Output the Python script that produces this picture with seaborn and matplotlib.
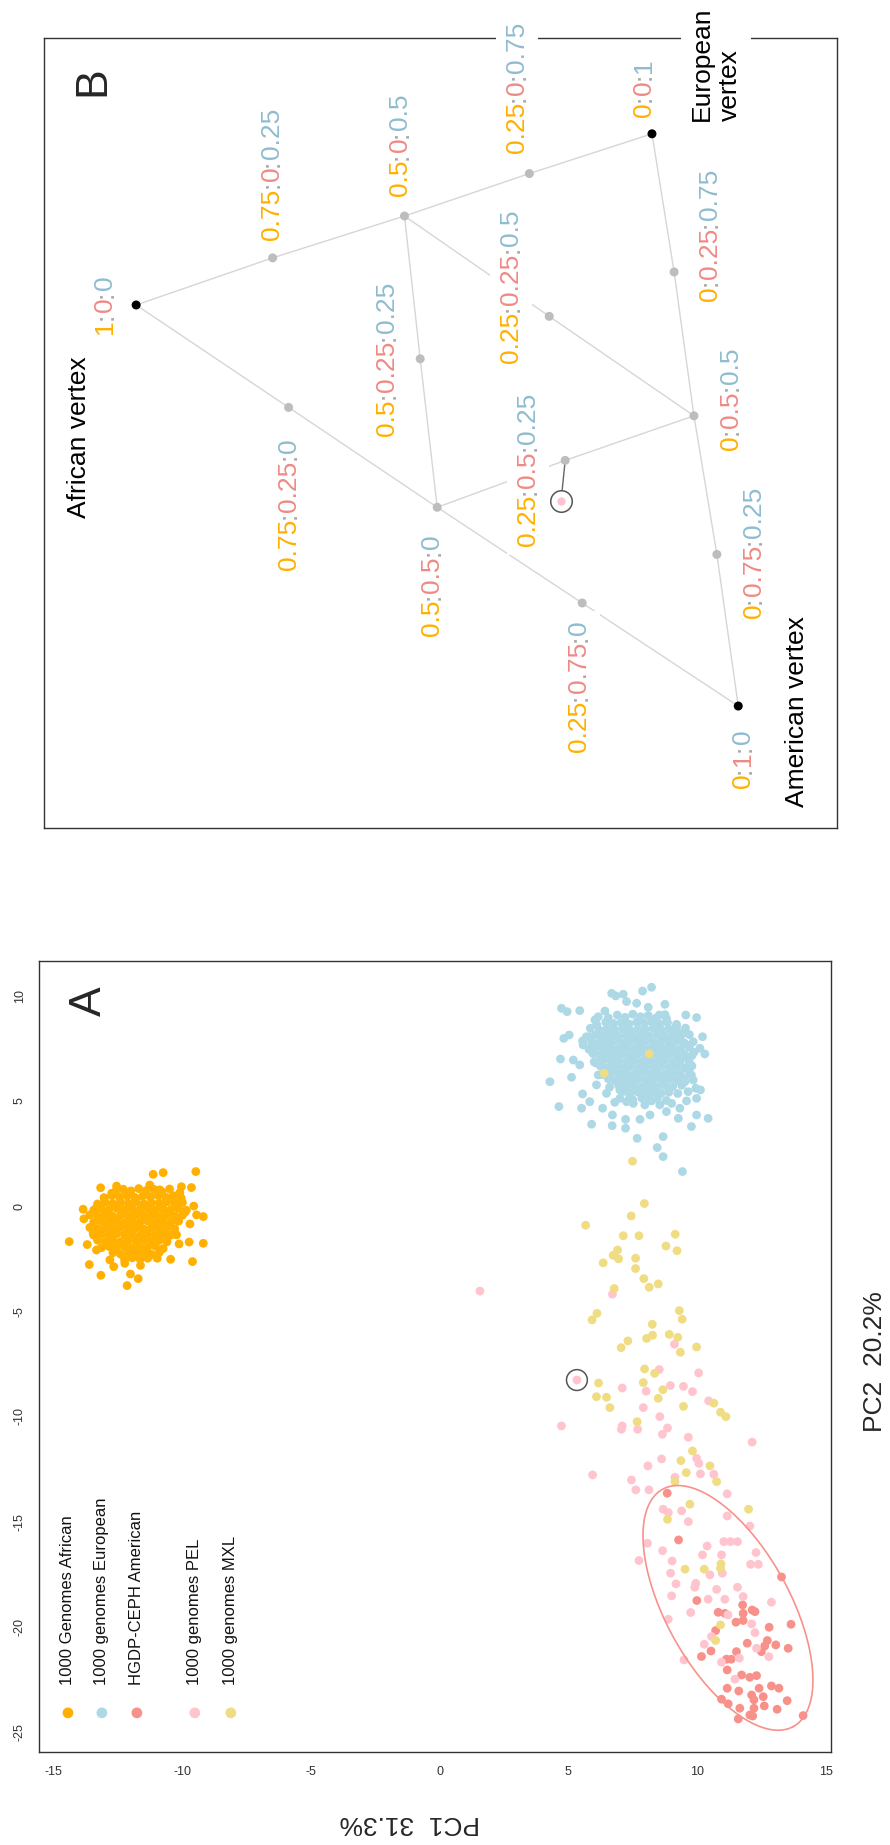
import numpy as np
import pandas as pd
import matplotlib
matplotlib.use("Agg")
import matplotlib.pyplot as plt
from matplotlib.patches import Rectangle
from matplotlib.transforms import IdentityTransform
import seaborn as sns

sns.set_style("white")
plt.rcParams["font.family"] = ["Liberation Sans", "DejaVu Sans"]
plt.rcParams["axes.unicode_minus"] = False

# ---------------------------------------------------------------- panel A data
populations = ["1000 Genomes African", "1000 genomes European",
               "HGDP-CEPH American", "1000 genomes PEL", "1000 genomes MXL"]
pop_colors = ["#FFB000", "#ADD8E6", "#F8918A", "#FFC4CD", "#F0DC82"]

african = [
    # dense core
    (-12.6, 0.70), (-12.3, 0.80), (-12.0, 0.72), (-11.7, 0.83), (-11.4, 0.74), (-11.1, 0.79),
    (-10.8, 0.68), (-10.5, 0.81),
    (-13.05, 0.40), (-12.75, 0.50), (-12.45, 0.43), (-12.15, 0.48), (-11.85, 0.41),
    (-11.55, 0.47), (-11.25, 0.44), (-10.95, 0.50), (-10.65, 0.42), (-10.35, 0.49), (-10.05, 0.38),
    (-13.3, 0.10), (-13.0, 0.18), (-12.7, 0.12), (-12.4, 0.17), (-12.1, 0.13), (-11.8, 0.19),
    (-11.5, 0.11), (-11.2, 0.16), (-10.9, 0.14), (-10.6, 0.20), (-10.3, 0.12), (-10.0, 0.17),
    (-13.45, -0.20), (-13.15, -0.12), (-12.85, -0.17), (-12.55, -0.11), (-12.25, -0.18),
    (-11.95, -0.13), (-11.65, -0.16), (-11.35, -0.12), (-11.05, -0.19), (-10.75, -0.14),
    (-10.45, -0.17), (-10.15, -0.11), (-9.85, -0.20),
    (-13.6, -0.42), (-13.3, -0.48), (-13.0, -0.43), (-12.7, -0.49), (-12.4, -0.44),
    (-12.1, -0.47), (-11.8, -0.41), (-11.5, -0.46), (-11.2, -0.44), (-10.9, -0.49),
    (-10.6, -0.42), (-10.3, -0.47), (-10.0, -0.43),
    (-13.45, -0.78), (-13.15, -0.72), (-12.85, -0.77), (-12.55, -0.73), (-12.25, -0.79),
    (-11.95, -0.74), (-11.65, -0.76), (-11.35, -0.71), (-11.05, -0.78), (-10.75, -0.73),
    (-10.45, -0.77), (-10.15, -0.72),
    (-13.6, -1.02), (-13.3, -1.08), (-13.0, -1.03), (-12.7, -1.07), (-12.4, -1.01),
    (-12.1, -1.06), (-11.8, -1.04), (-11.5, -1.09), (-11.2, -1.02), (-10.9, -1.07),
    (-10.6, -1.03), (-10.3, -1.08),
    (-13.45, -1.38), (-13.15, -1.32), (-12.85, -1.37), (-12.55, -1.31), (-12.25, -1.36),
    (-11.95, -1.33), (-11.65, -1.39), (-11.35, -1.34), (-11.05, -1.36), (-10.75, -1.31),
    (-10.45, -1.38),
    (-13.3, -1.62), (-13.0, -1.68), (-12.7, -1.63), (-12.4, -1.69), (-12.1, -1.64),
    (-11.8, -1.66), (-11.5, -1.61), (-11.2, -1.67), (-10.9, -1.63), (-10.6, -1.70),
    (-13.15, -1.98), (-12.85, -1.92), (-12.55, -1.97), (-12.25, -1.93), (-11.95, -1.99),
    (-11.65, -1.94), (-11.35, -1.96), (-11.05, -1.91), (-10.75, -2.02),
    (-12.7, -2.22), (-12.4, -2.29), (-12.1, -2.21), (-11.8, -2.27), (-11.5, -2.24),
    (-11.2, -2.30), (-10.9, -2.20),
    (-12.25, -2.55), (-11.95, -2.46), (-11.65, -2.52), (-11.35, -2.48),
    # scattered edge
    (-14.40, -1.69), (-11.14, 1.51), (-10.75, 1.59), (-9.48, 1.64), (-13.18, 0.87),
    (-12.56, 0.95), (-13.86, -0.15), (-13.83, -0.61), (-13.40, -0.15), (-13.70, -1.83),
    (-13.62, -2.78), (-13.17, -3.29), (-12.67, -2.88), (-12.02, -3.23), (-12.15, -3.78),
    (-11.72, -3.45), (-11.63, -2.82), (-12.24, -2.72), (-10.98, -2.48), (-10.46, -2.53),
    (-10.13, -1.80), (-9.74, -1.71), (-9.19, -1.77), (-9.61, -2.64), (-9.56, 0.00),
    (-9.45, -0.42), (-9.19, -0.50), (-9.65, 0.88), (-10.04, 0.92), (-10.10, 0.64),
    (-10.30, 0.32), (-9.91, -0.30), (-9.71, -0.85), (-10.23, -1.37), (-10.68, -1.53),
    (-11.27, -2.32), (-12.75, 0.61), (-12.17, 0.64), (-11.27, 1.00), (-10.88, 0.77),
    (-13.47, -1.29), (-13.34, -2.09), (-12.82, -2.56),
]

european = [
    # dense core
    (6.55, 8.95), (6.9, 9.08), (7.2, 8.97), (7.5, 9.12), (7.8, 9.00), (8.1, 9.06), (8.4, 8.93),
    (8.75, 9.10),
    (6.1, 8.62), (6.45, 8.74), (6.75, 8.68), (7.05, 8.72), (7.35, 8.66), (7.65, 8.74),
    (7.95, 8.69), (8.25, 8.73), (8.55, 8.66), (8.85, 8.72), (9.2, 8.64),
    (5.85, 8.45), (6.2, 8.37), (6.5, 8.42), (6.8, 8.38), (7.1, 8.43), (7.4, 8.36), (7.7, 8.41),
    (8.0, 8.39), (8.3, 8.44), (8.6, 8.37), (8.9, 8.42), (9.2, 8.38), (9.55, 8.46),
    (5.7, 8.05), (6.05, 8.13), (6.35, 8.08), (6.65, 8.12), (6.95, 8.07), (7.25, 8.11),
    (7.55, 8.06), (7.85, 8.13), (8.15, 8.08), (8.45, 8.12), (8.75, 8.07), (9.05, 8.11),
    (9.35, 8.06), (9.7, 8.15),
    (5.55, 7.85), (5.9, 7.77), (6.2, 7.82), (6.5, 7.78), (6.8, 7.83), (7.1, 7.76), (7.4, 7.81),
    (7.7, 7.79), (8.0, 7.84), (8.3, 7.77), (8.6, 7.82), (8.9, 7.78), (9.2, 7.83), (9.5, 7.76),
    (9.85, 7.81),
    (5.8, 7.45), (6.05, 7.53), (6.35, 7.48), (6.65, 7.52), (6.95, 7.47), (7.25, 7.51),
    (7.55, 7.46), (7.85, 7.53), (8.15, 7.48), (8.45, 7.52), (8.75, 7.47), (9.05, 7.51),
    (9.35, 7.46), (9.7, 7.55),
    (5.95, 7.25), (6.2, 7.17), (6.5, 7.22), (6.8, 7.18), (7.1, 7.23), (7.4, 7.16), (7.7, 7.21),
    (8.0, 7.19), (8.3, 7.24), (8.6, 7.17), (8.9, 7.22), (9.2, 7.18), (9.5, 7.23), (9.8, 7.15),
    (6.0, 6.85), (6.35, 6.93), (6.65, 6.88), (6.95, 6.92), (7.25, 6.87), (7.55, 6.91),
    (7.85, 6.86), (8.15, 6.93), (8.45, 6.88), (8.75, 6.92), (9.05, 6.87), (9.35, 6.91),
    (9.7, 6.84),
    (6.25, 6.65), (6.5, 6.57), (6.8, 6.62), (7.1, 6.58), (7.4, 6.63), (7.7, 6.56), (8.0, 6.61),
    (8.3, 6.59), (8.6, 6.64), (8.9, 6.57), (9.2, 6.62), (9.5, 6.58), (9.8, 6.66),
    (6.3, 6.25), (6.65, 6.33), (6.95, 6.28), (7.25, 6.32), (7.55, 6.27), (7.85, 6.31),
    (8.15, 6.26), (8.45, 6.33), (8.75, 6.28), (9.05, 6.32), (9.35, 6.27), (9.7, 6.35),
    (6.55, 6.05), (6.8, 5.97), (7.1, 6.02), (7.4, 5.98), (7.7, 6.03), (8.0, 5.96), (8.3, 6.01),
    (8.6, 5.99), (8.9, 6.04), (9.2, 5.97), (9.5, 6.06),
    (6.6, 5.65), (6.95, 5.73), (7.25, 5.68), (7.55, 5.72), (7.85, 5.67), (8.15, 5.71),
    (8.45, 5.66), (8.75, 5.73), (9.05, 5.68), (9.4, 5.74),
    (7.15, 5.45), (7.4, 5.37), (7.7, 5.42), (8.0, 5.38), (8.3, 5.43), (8.6, 5.36), (8.9, 5.41),
    (9.25, 5.35),
    (7.5, 5.05), (7.85, 5.13), (8.15, 5.08), (8.45, 5.12), (8.8, 5.02),
    # scattered edge
    (8.23, 10.40), (7.88, 10.22), (6.68, 10.11), (7.13, 10.07), (6.84, 9.99), (4.73, 9.40),
    (4.95, 9.24), (5.44, 9.29), (7.26, 9.72), (7.65, 9.64), (8.10, 9.45), (8.75, 9.59),
    (9.56, 9.08), (9.98, 8.96), (10.21, 8.05), (4.82, 7.97), (5.03, 8.13), (4.69, 6.99),
    (4.28, 5.91), (5.12, 6.12), (4.63, 4.73), (5.51, 4.65), (5.90, 3.89), (5.55, 5.33),
    (5.83, 4.96), (6.33, 4.65), (6.71, 4.33), (6.70, 3.82), (7.22, 4.12), (7.22, 3.70),
    (7.67, 3.22), (8.68, 3.30), (8.45, 2.78), (8.68, 2.35), (9.43, 1.64), (9.78, 3.78),
    (9.27, 4.17), (10.43, 4.17), (9.98, 4.33), (10.30, 7.23), (10.11, 7.50), (9.88, 7.31),
    (10.13, 5.52), (9.98, 5.12), (9.59, 5.00), (7.78, 4.12), (8.17, 4.33), (6.80, 4.93),
    (7.26, 4.96), (9.78, 6.23), (9.85, 5.99), (6.42, 9.27), (6.16, 9.00), (6.03, 8.85),
    (8.53, 9.08), (8.81, 8.92), (9.20, 8.53), (9.46, 8.21), (9.59, 7.66), (5.19, 6.94),
    (5.44, 6.71), (5.83, 8.05), (5.57, 7.66), (6.09, 6.79), (6.16, 6.23), (6.09, 5.76),
    (6.48, 5.36), (7.00, 5.52), (7.00, 5.12), (7.39, 5.20), (7.52, 4.88), (7.97, 4.81),
    (8.23, 5.00), (8.55, 4.81), (9.01, 4.88), (8.81, 4.49), (9.33, 4.65), (9.65, 5.44),
    (9.95, 5.60), (9.53, 5.91), (9.59, 6.55), (9.59, 7.10),
]

hgdp_american = [
    (8.84, -13.65), (9.28, -15.87), (9.99, -18.75), (10.82, -19.31), (11.08, -19.36),
    (11.51, -19.78), (11.77, -18.96), (11.79, -19.36), (11.79, -19.70), (12.14, -19.20),
    (12.25, -19.28), (10.72, -20.18), (12.80, -20.02), (13.65, -19.88), (13.28, -17.63),
    (11.95, -20.78), (12.73, -20.65), (12.63, -20.91), (12.50, -21.18), (13.06, -20.86),
    (13.54, -21.02), (10.54, -21.15), (10.17, -21.41), (11.14, -21.54), (11.33, -21.54),
    (11.53, -21.18), (11.17, -22.05), (11.73, -22.29), (12.05, -22.40), (12.31, -22.32),
    (11.17, -22.92), (11.62, -23.05), (11.21, -23.66), (10.95, -23.44), (11.66, -23.87),
    (12.12, -23.24), (12.41, -22.92), (12.57, -23.32), (12.89, -22.81), (13.18, -22.92),
    (12.21, -23.47), (12.21, -23.87), (12.61, -23.76), (13.11, -23.92), (13.50, -23.51),
    (11.60, -24.38), (12.05, -24.19), (12.16, -24.24), (14.12, -24.22),
]

# the PEL sample that is circled in both panels
highlighted_pel = (5.33, -8.27)
pel = [
    (1.56, -4.04), (6.71, -4.19), (9.12, -6.57), (8.53, -7.77), (10.06, -7.93),
    highlighted_pel,
    (7.09, -8.65), (8.02, -8.80), (8.96, -8.53), (9.47, -8.57), (9.82, -8.82),
    (10.45, -9.26), (7.91, -9.58), (8.55, -10.01), (4.73, -10.45), (7.09, -10.45),
    (7.06, -10.61), (7.69, -10.61), (8.85, -10.55), (8.65, -10.85), (9.66, -10.99),
    (12.14, -11.22), (5.94, -12.78), (8.09, -12.35), (8.62, -12.02), (9.98, -11.99),
    (10.07, -12.23), (10.13, -12.73), (10.65, -12.75), (7.45, -13.02), (7.62, -13.49),
    (8.13, -13.49), (9.14, -12.89), (11.17, -13.68), (8.68, -14.41), (8.88, -14.57),
    (9.40, -14.49), (11.17, -14.73), (9.66, -15.00), (12.05, -15.21), (8.07, -16.03),
    (7.74, -16.85), (8.66, -16.38), (9.03, -16.87), (8.97, -17.45), (9.18, -17.96),
    (9.01, -18.53), (8.88, -19.64), (9.75, -19.32), (9.95, -17.93), (9.91, -18.12),
    (10.21, -16.58), (10.39, -16.16), (10.95, -16.58), (11.04, -15.95), (11.30, -15.95),
    (11.57, -15.95), (10.50, -17.53), (10.98, -17.45), (10.76, -18.22), (10.43, -18.69),
    (11.08, -18.69), (11.57, -18.12), (11.79, -18.56), (12.29, -16.47), (12.08, -17.03),
    (12.38, -17.03), (12.89, -18.83), (11.20, -19.43), (12.12, -19.86), (12.25, -20.28),
    (10.28, -20.83), (10.56, -20.46), (9.49, -21.57), (10.95, -21.68), (11.64, -21.49),
    (12.31, -21.02), (12.79, -21.42), (11.47, -22.49),
]

mxl = [
    (8.14, 7.23), (6.39, 6.31), (7.49, 2.13), (7.95, 0.12), (7.44, -0.47), (5.67, -0.91),
    (7.13, -1.41), (7.74, -1.41), (9.15, -1.34), (8.79, -1.90), (9.22, -2.12), (6.91, -2.09),
    (6.74, -2.34), (6.95, -2.51), (6.35, -2.70), (7.61, -2.48), (7.61, -2.97), (7.93, -3.45),
    (8.14, -3.86), (8.49, -3.70), (6.78, -3.92), (6.11, -5.10), (5.92, -5.41), (9.31, -4.97),
    (9.42, -5.38), (8.26, -5.62), (8.27, -6.14), (8.04, -6.29), (8.92, -6.10), (9.25, -6.24),
    (7.31, -6.41), (7.05, -6.73), (9.35, -6.95), (9.98, -6.70), (7.96, -7.74), (8.35, -7.95),
    (6.17, -8.41), (7.91, -8.39), (8.67, -8.73), (6.09, -9.06), (6.48, -9.09), (6.61, -9.58),
    (8.49, -9.14), (9.47, -9.52), (10.65, -9.37), (10.91, -9.80), (11.12, -10.01),
    (7.67, -10.25), (9.82, -11.64), (9.37, -12.10), (9.58, -12.67), (10.50, -12.35),
    (10.76, -13.10), (9.14, -13.10), (12.00, -14.41), (9.72, -14.17), (8.85, -14.89),
    (9.53, -17.26), (10.28, -17.26), (10.93, -17.01), (10.91, -17.22), (10.91, -19.91),
    (10.72, -20.65),
]

# highlight ellipse around the HGDP-CEPH Americans: centre and two conjugate semi-axes (PC units)
ellipse_center = (11.2, -19.1)
ellipse_axis_u = (2.54, -5.64)
ellipse_axis_v = (2.11, 1.42)

x_ticks = [-15, -10, -5, 0, 5, 10, 15]
y_ticks = [-25, -20, -15, -10, -5, 0, 5, 10]
legend_pc1 = [-14.45, -13.13, -11.77, -9.52, -8.12]

# ---------------------------------------------------------------- panel B data
# simulated admixture proportions (African:American:European) projected on PC1/PC2
simplex_labels = ["1:0:0", "0:1:0", "0:0:1",
                  "0.75:0:0.25", "0.5:0:0.5", "0.25:0:0.75",
                  "0:0.25:0.75", "0:0.5:0.5", "0:0.75:0.25",
                  "0.75:0.25:0", "0.5:0.5:0", "0.25:0.75:0",
                  "0.5:0.25:0.25", "0.25:0.25:0.5", "0.25:0.5:0.25"]
simplex_pc1 = [-12.00, 11.38, 8.03, -6.70, -1.58, 3.27, 8.89, 9.66, 10.55,
               -6.08, -0.31, 5.32, -0.97, 4.04, 4.66]
simplex_pc2 = [-1.08, -20.15, 7.06, 1.16, 3.15, 5.17, 0.49, -6.35, -12.94,
               -5.95, -10.70, -15.25, -3.64, -1.62, -8.47]
simplex_edges = [
    ("1:0:0", "0.75:0:0.25"), ("0.75:0:0.25", "0.5:0:0.5"), ("0.5:0:0.5", "0.25:0:0.75"),
    ("0.25:0:0.75", "0:0:1"),
    ("1:0:0", "0.75:0.25:0"), ("0.75:0.25:0", "0.5:0.5:0"), ("0.5:0.5:0", "0.25:0.75:0"),
    ("0.25:0.75:0", "0:1:0"),
    ("0:0:1", "0:0.25:0.75"), ("0:0.25:0.75", "0:0.5:0.5"), ("0:0.5:0.5", "0:0.75:0.25"),
    ("0:0.75:0.25", "0:1:0"),
    ("0.5:0:0.5", "0.5:0.25:0.25"), ("0.5:0.25:0.25", "0.5:0.5:0"),
    ("0.5:0:0.5", "0.25:0.25:0.5"), ("0.25:0.25:0.5", "0:0.5:0.5"),
    ("0.5:0.5:0", "0.25:0.5:0.25"), ("0.25:0.5:0.25", "0:0.5:0.5"),
]
vertex_names = {"1:0:0": "African vertex", "0:1:0": "American vertex",
                "0:0:1": "European\nvertex"}
projected_pel = (4.50, -10.40)
nearest_node = "0.25:0.5:0.25"

# label placement around each node, in pixels (right, up)
label_offsets = {
    "1:0:0": (-31, 0), "0:1:0": (5, -53), "0:0:1": (-8, 46),
    "0.75:0:0.25": (-1, 84), "0.5:0:0.5": (-4, 71), "0.25:0:0.75": (-12, 86),
    "0:0.25:0.75": (36, 37), "0:0.5:0.5": (37, 17), "0:0.75:0.25": (37, 2),
    "0.75:0.25:0": (0, -97), "0.5:0.5:0": (-5, -78), "0.25:0.75:0": (-3, -83),
    "0.5:0.25:0.25": (-33, 0), "0.25:0.25:0.5": (-38, 30), "0.25:0.5:0.25": (-37, -9),
}
vertex_offsets = {"1:0:0": (-57, -132), "0:1:0": (59, -6), "0:0:1": (64, 70)}

# ---------------------------------------------------------------- styling
FRAME = "#333333"
ORANGE, RED, BLUE, COLON = "#FFB000", "#EF8A84", "#8FBCCF", "#A8A8A8"
XLIM, YLIM = (-15.59, 15.22), (-25.95, 11.63)

fig = plt.figure(figsize=(8.9, 18.45), dpi=100)
axA = fig.add_axes([0.04337, 0.05041, 0.8908, 0.42851])
axB = fig.add_axes([0.0491, 0.55122, 0.8915, 0.42835])
renderer = fig.canvas.get_renderer()


def text_size(s, fontsize):
    probe = fig.text(0, 0, s, fontsize=fontsize)
    bb = probe.get_window_extent(renderer)
    probe.remove()
    return bb.width, bb.height


def ratio_label(ax, xy, offset, text, fontsize=19, pad=9):
    """Vertical 'a:b:c' label, each proportion in its ancestry colour, on a white box."""
    a, m, e = text.split(":")
    pieces = [(a, ORANGE), (":", COLON), (m, RED), (":", COLON), (e, BLUE)]
    widths = [text_size(p, fontsize)[0] for p, _ in pieces]
    height = text_size(text, fontsize)[1]
    total = sum(widths)
    px, py = ax.transData.transform(xy)
    cx, cy = px + offset[0], py + offset[1]
    ax.add_artist(Rectangle((cx - height / 2 - pad, cy - total / 2 - pad),
                            height + 2 * pad, total + 2 * pad,
                            transform=IdentityTransform(), facecolor="white",
                            edgecolor="none", zorder=4, clip_on=False))
    y0 = cy - total / 2
    for (piece, col), w in zip(pieces, widths):
        ax.text(cx, y0 + w / 2, piece, transform=IdentityTransform(), rotation=90,
                ha="center", va="center", fontsize=fontsize, color=col, zorder=5)
        y0 += w


# ---------------------------------------------------------------- panel A
frames = []
for name, pts in zip(populations, [african, european, hgdp_american, pel, mxl]):
    arr = np.array(pts)
    frames.append(pd.DataFrame({"pc1": arr[:, 0], "pc2": arr[:, 1], "population": name}))
pca = pd.concat(frames, ignore_index=True)
palette = dict(zip(populations, pop_colors))

sns.scatterplot(data=pca, x="pc1", y="pc2", hue="population", hue_order=populations,
                palette=palette, s=40, linewidth=0, edgecolor="none", legend=False,
                ax=axA, zorder=3)

t = np.linspace(0, 2 * np.pi, 300)
ex = ellipse_center[0] + ellipse_axis_u[0] * np.cos(t) + ellipse_axis_v[0] * np.sin(t)
ey = ellipse_center[1] + ellipse_axis_u[1] * np.cos(t) + ellipse_axis_v[1] * np.sin(t)
axA.plot(ex, ey, color="#F8918A", lw=1.2, zorder=4)

axA.scatter([highlighted_pel[0]], [highlighted_pel[1]], s=225, facecolor="none",
            edgecolor="#555555", linewidth=1.1, zorder=5)

legend_df = pd.DataFrame({"pc1": legend_pc1, "pc2": [-24.09] * 5, "population": populations})
sns.scatterplot(data=legend_df, x="pc1", y="pc2", hue="population", hue_order=populations,
                palette=palette, s=60, linewidth=0, edgecolor="none", legend=False,
                ax=axA, zorder=5)
for x, name in zip(legend_pc1, populations):
    axA.text(x, -22.76, name, rotation=90, ha="center", va="bottom", fontsize=12,
             color="#111111")

axA.set_xlim(*XLIM)
axA.set_ylim(*YLIM)
axA.set_xticks(x_ticks)
axA.set_yticks(y_ticks)
axA.set_xlabel("")
axA.set_ylabel("")
axA.tick_params(axis="both", direction="out", length=4.3, width=0.8, color=FRAME,
                labelsize=9, labelcolor="#333333")
axA.tick_params(axis="x", pad=6)
axA.tick_params(axis="y", pad=5, labelrotation=90)
for lab in axA.get_yticklabels():
    lab.set_verticalalignment("center")
for sp in axA.spines.values():
    sp.set_color(FRAME)
    sp.set_linewidth(1.0)
axA.text(0.0641, 0.950, "A", transform=axA.transAxes, rotation=90, fontsize=32,
         ha="center", va="center")

fig.text(410 / 890, 1 - 1823 / 1845, "PC1  31.3%", rotation=180, ha="center",
         va="center", fontsize=19)
fig.text(875 / 890, 1 - 1362 / 1845, "PC2  20.2%", rotation=90, ha="center",
         va="center", fontsize=19)

# ---------------------------------------------------------------- panel B
axB.set_xlim(*XLIM)
axB.set_ylim(*YLIM)
axB.set_xticks([])
axB.set_yticks([])
axB.set_xlabel("")
axB.set_ylabel("")
for sp in axB.spines.values():
    sp.set_color(FRAME)
    sp.set_linewidth(1.0)

node_xy = dict(zip(simplex_labels, zip(simplex_pc1, simplex_pc2)))
for a, b in simplex_edges:
    axB.plot([node_xy[a][0], node_xy[b][0]], [node_xy[a][1], node_xy[b][1]],
             color="#D6D6D6", lw=1.0, zorder=2)

axB.plot([node_xy[nearest_node][0], projected_pel[0]],
         [node_xy[nearest_node][1], projected_pel[1]], color="#666666", lw=1.0, zorder=2.2)

nodes = pd.DataFrame({"pc1": simplex_pc1, "pc2": simplex_pc2,
                      "kind": ["vertex" if n in vertex_names else "mix" for n in simplex_labels]})
sns.scatterplot(data=nodes, x="pc1", y="pc2", hue="kind",
                palette={"vertex": "black", "mix": "#BDBDBD"}, s=42, linewidth=0,
                edgecolor="none", legend=False, ax=axB, zorder=3)

axB.scatter([projected_pel[0]], [projected_pel[1]], s=240, facecolor="white",
            edgecolor="#555555", linewidth=1.1, zorder=3.1)
axB.scatter([projected_pel[0]], [projected_pel[1]], s=36, color="#FFC4CD",
            linewidth=0, zorder=3.2)

for name in simplex_labels:
    ratio_label(axB, node_xy[name], label_offsets[name], name)

for name, text in vertex_names.items():
    axB.annotate(text, xy=node_xy[name], xytext=vertex_offsets[name],
                 textcoords="offset pixels", rotation=90, ha="center", va="center",
                 multialignment="left", fontsize=19, color="black", zorder=4,
                 annotation_clip=False,
                 bbox=dict(boxstyle="square,pad=0.35", fc="white", ec="none"))

axB.text(0.0619, 0.945, "B", transform=axB.transAxes, rotation=90, fontsize=32,
         ha="center", va="center")

fig.savefig("out.png", dpi=100, facecolor="white")
